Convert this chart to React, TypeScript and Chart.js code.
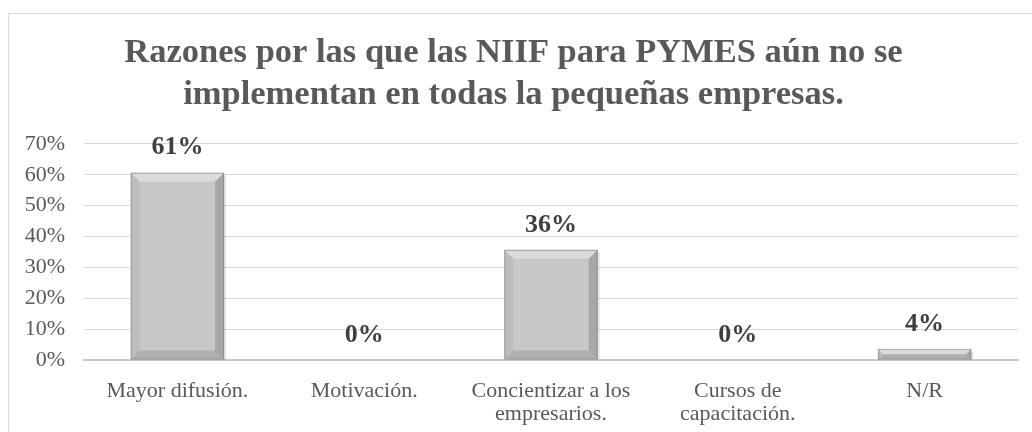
import React, { useEffect, useRef } from "react";
import { Chart, registerables } from "chart.js";

Chart.register(...registerables);

const categories: (string | string[])[] = [
  "Mayor difusión.",
  "Motivación.",
  ["Concientizar a los", "empresarios."],
  ["Cursos de", "capacitación."],
  "N/R",
];
const values: number[] = [60.7, 0, 35.7, 0, 3.6];
const titleLines: string[] = [
  "Razones por las que las NIIF para PYMES aún no se",
  "implementan en todas la pequeñas empresas.",
];
const yMax = 70;
const yStep = 10;

const FONT = "'Liberation Serif', 'Times New Roman', serif";

const bevelPlugin = {
  id: "bevelAndLabels",
  afterDatasetsDraw(chart: any) {
    const ctx = chart.ctx;
    const meta = chart.getDatasetMeta(0);
    meta.data.forEach((bar: any, i: number) => {
      const { x, y, base, width } = bar.getProps(["x", "y", "base", "width"], true);
      const l = x - width / 2;
      const r = x + width / 2;
      const t = Math.min(y, base);
      const b = Math.max(y, base);
      const h = b - t;
      if (h > 0.5) {
        const bv = Math.min(9, h / 2);
        ctx.save();
        // soft shadow
        ctx.fillStyle = "rgba(0,0,0,0.10)";
        ctx.fillRect(r, t + 3, 2, h - 3);
        // top bevel
        ctx.fillStyle = "rgba(255,255,255,0.35)";
        ctx.beginPath();
        ctx.moveTo(l, t); ctx.lineTo(r, t); ctx.lineTo(r - bv, t + bv); ctx.lineTo(l + bv, t + bv); ctx.closePath(); ctx.fill();
        // left bevel
        ctx.fillStyle = "rgba(0,0,0,0.05)";
        ctx.beginPath();
        ctx.moveTo(l, t); ctx.lineTo(l + bv, t + bv); ctx.lineTo(l + bv, b - bv); ctx.lineTo(l, b); ctx.closePath(); ctx.fill();
        // right bevel
        ctx.fillStyle = "rgba(0,0,0,0.16)";
        ctx.beginPath();
        ctx.moveTo(r, t); ctx.lineTo(r - bv, t + bv); ctx.lineTo(r - bv, b - bv); ctx.lineTo(r, b); ctx.closePath(); ctx.fill();
        // bottom bevel
        ctx.fillStyle = "rgba(0,0,0,0.12)";
        ctx.beginPath();
        ctx.moveTo(l, b); ctx.lineTo(l + bv, b - bv); ctx.lineTo(r - bv, b - bv); ctx.lineTo(r, b); ctx.closePath(); ctx.fill();
        // outline
        ctx.strokeStyle = "rgba(120,120,120,0.55)";
        ctx.lineWidth = 1;
        ctx.strokeRect(l + 0.5, t + 0.5, width - 1, h - 1);
        ctx.restore();
      }
      // data label
      ctx.save();
      ctx.font = `bold 26px ${FONT}`;
      ctx.fillStyle = "#404040";
      ctx.textAlign = "center";
      ctx.textBaseline = "middle";
      ctx.fillText(Math.round(values[i]) + "%", x, t - 25);
      ctx.restore();
    });
  },
};

export default function App() {
  const ref = useRef<HTMLCanvasElement | null>(null);
  useEffect(() => {
    if (!ref.current) return;
    const chart = new Chart(ref.current, {
      type: "bar",
      data: {
        labels: categories,
        datasets: [
          {
            data: values,
            backgroundColor: "#c8c8c8",
            borderWidth: 0,
            categoryPercentage: 1,
            barPercentage: 0.5,
          },
        ],
      },
      options: {
        animation: false,
        responsive: false,
        maintainAspectRatio: false,
        layout: { padding: { left: 0, right: 14, top: 0, bottom: 0 } },
        plugins: {
          legend: { display: false },
          tooltip: { enabled: false },
          title: {
            display: true,
            text: titleLines,
            color: "#595959",
            font: { family: FONT, size: 34.5, weight: "bold", lineHeight: 1.21 },
            padding: { top: 18.5, bottom: 28 },
          },
        },
        scales: {
          x: {
            afterFit: (s: any) => {
              s.height = 72;
            },
            grid: { display: false, drawTicks: false },
            border: { display: true, color: "#c8c8c8", width: 2 },
            ticks: {
              color: "#595959",
              font: { family: FONT, size: 22, lineHeight: 1.05 },
              padding: 20,
              maxRotation: 0,
              autoSkip: false,
            },
          },
          y: {
            min: 0,
            max: yMax,
            afterFit: (s: any) => {
              s.width = 75;
            },
            grid: {
              color: "#d9d9d9",
              lineWidth: 1,
              drawTicks: false,
            },
            border: { display: false },
            ticks: {
              stepSize: yStep,
              color: "#595959",
              font: { family: FONT, size: 22 },
              padding: 19,
              callback: (v: any) => v + "%",
            },
          },
        },
      },
      plugins: [bevelPlugin],
    });
    return () => chart.destroy();
  }, []);
  return (
    <div
      style={{
        position: "fixed",
        left: 8,
        top: 13,
        width: 1024,
        height: 419,
        borderLeft: "1px solid #d9d9d9",
        borderTop: "1px solid #d9d9d9",
        background: "#fff",
      }}
    >
      <canvas ref={ref} width={1023} height={418} style={{ display: "block" }} />
    </div>
  );
}
